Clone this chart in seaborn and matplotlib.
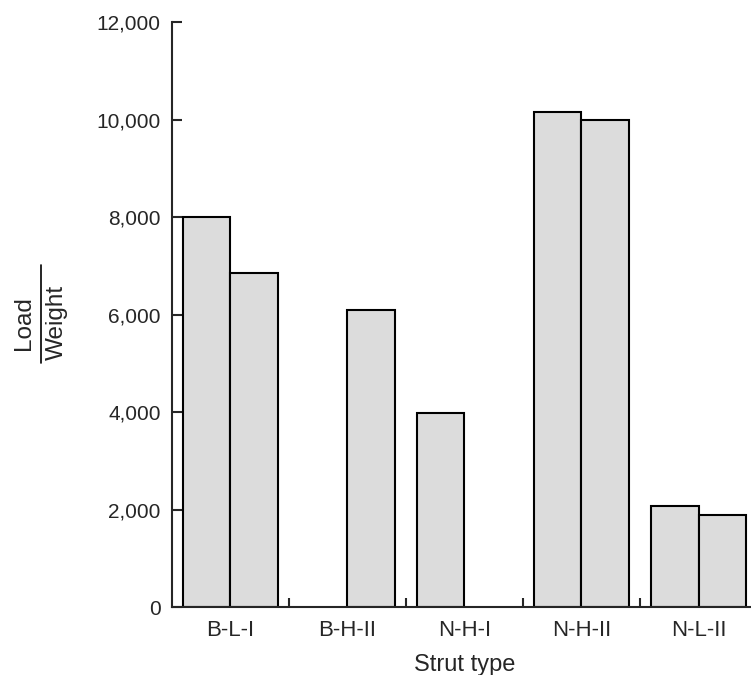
import pandas as pd
import numpy as np
import seaborn as sns
import matplotlib.pyplot as plt
from matplotlib.lines import Line2D
from matplotlib.ticker import StrMethodFormatter, FixedLocator

# Data (two struts per type, NaN = no bar)
strut_types = ["B-L-I", "B-H-II", "N-H-I", "N-H-II", "N-L-II"]
first_strut = [8000, np.nan, 3980, 10150, 2070]
second_strut = [6850, 6090, np.nan, 9990, 1880]

df = pd.DataFrame({
    "Strut type": strut_types * 2,
    "Load/Weight": first_strut + second_strut,
    "strut": ["1"] * 5 + ["2"] * 5,
})

sns.set_style("ticks")
plt.rcParams["font.family"] = ["Liberation Sans", "DejaVu Sans"]

W, H = 751, 675
fig = plt.figure(figsize=(W / 100, H / 100), dpi=100)
ax = fig.add_axes([0.229, 0.1007, 0.779, 0.8667])

sns.barplot(data=df, x="Strut type", y="Load/Weight", hue="strut",
            palette=["#dcdcdc", "#dcdcdc"], edgecolor="black", linewidth=1.5,
            width=0.81, gap=0, legend=False, ax=ax)

ax.set_xlim(-0.5, 4.5)
ax.set_ylim(0, 12000)
ax.set_yticks(range(0, 12001, 2000))
ax.yaxis.set_major_formatter(StrMethodFormatter("{x:,.0f}"))

sns.despine(ax=ax)
for s in ["left", "bottom"]:
    ax.spines[s].set_linewidth(1.5)

ax.tick_params(axis="y", direction="in", length=7.5, width=1.5, labelsize=15, pad=8)
ax.tick_params(axis="x", which="major", length=0, labelsize=16, pad=9)
ax.xaxis.set_minor_locator(FixedLocator([0.5, 1.5, 2.5, 3.5]))
ax.tick_params(axis="x", which="minor", direction="in", length=6.5, width=1.5)

ax.set_xlabel("Strut type", fontsize=17, labelpad=10)
ax.set_ylabel("")

# y label drawn as a stacked fraction: Load over Weight
fig.text(24 / W, 1 - 323 / H, "Load", rotation=90, fontsize=17.5,
         ha="center", va="center")
fig.text(57 / W, 1 - 322 / H, "Weight", rotation=90, fontsize=17.5,
         ha="center", va="center")
fig.add_artist(Line2D([41 / W, 41 / W], [1 - 265 / H, 1 - 363 / H],
                      transform=fig.transFigure, color="black", lw=1.2))

fig.savefig("out.png", dpi=100)
